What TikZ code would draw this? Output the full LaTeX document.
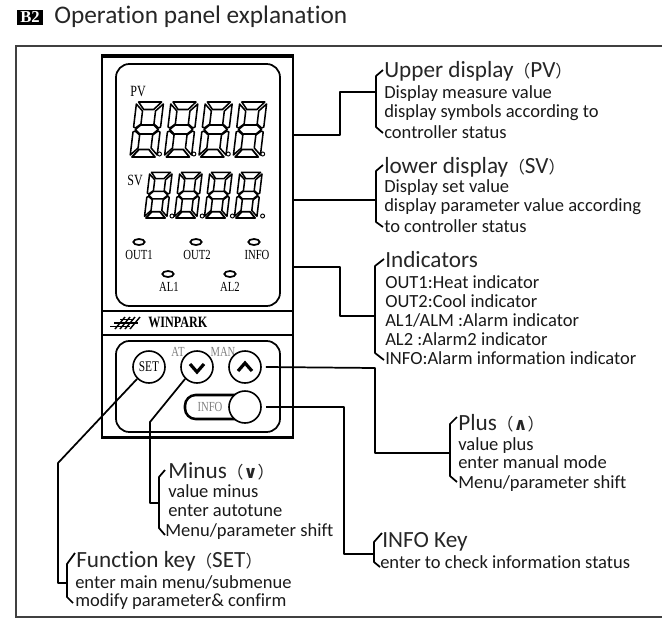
\documentclass[tikz,border=0pt]{standalone}
\usepackage{fontspec}
\setmainfont[Ligatures=NoCommon]{Carlito}
\newfontfamily\cjkf{Noto Sans CJK SC}
\newfontfamily\dejab{DejaVu Sans}
\newfontfamily\serf{Liberation Serif}
\usetikzlibrary{shapes.geometric}
\newcommand{\tall}[1]{\scalebox{1}[1.3]{#1}}
\newcommand{\lp}{{\cjkf\fontsize{12.5}{12}\selectfont （}}
\newcommand{\rp}{{\cjkf\fontsize{12.5}{12}\selectfont ）}}
\newcommand{\segdigit}[3]{%
\begin{scope}[shift={(#1,#2)},xslant=.12,scale=#3,line width=1.15pt,line join=round]
\draw (3,-55)--(26,-55)--(19,-47.5)--(9,-47.5)--cycle;
\draw (1,-53)--(8,-46)--(8,-33)--(3,-29)--(1,-30)--cycle;
\draw (28,-53)--(21,-46)--(21,-33)--(26,-29)--(28,-30)--cycle;
\draw (3,-27.5)--(8,-32)--(21,-32)--(26,-27.5)--(21,-23)--(8,-23)--cycle;
\draw (1,-25)--(3,-26)--(8,-22)--(8,-9)--(1,-2)--cycle;
\draw (28,-25)--(26,-26)--(21,-22)--(21,-9)--(28,-2)--cycle;
\draw[line width=1.35pt] (3,0)--(26,0)--(19,-7.5)--(9,-7.5)--cycle;
\end{scope}}
\tikzset{
 x=.75pt,y=-.75pt,
 conn/.style={line width=1.3pt,line join=round},
 thin frame/.style={line width=.9pt,draw=black!75},
 body/.style={line width=1.6pt},
 head/.style={anchor=west,inner sep=0pt,yshift=-2.2pt,text height=.68em,text depth=.2em,font=\fontsize{17.4}{19}\selectfont,text=black!85},
 txt/.style={anchor=west,inner sep=0pt,yshift=-2.2pt,text height=.68em,text depth=.2em,font=\fontsize{13.9}{15}\selectfont,text=black!90},
 dev/.style={inner sep=0pt,font=\serf\fontsize{8}{9}\selectfont},
 devg/.style={inner sep=0pt,font=\serf\fontsize{8}{9}\selectfont,text=black!50},
 key/.style={circle,draw,line width=1.2pt,fill=white,minimum size=24pt,inner sep=0pt},
 led/.style={ellipse,draw,line width=1.3pt,minimum width=8.5pt,minimum height=4.5pt,inner sep=0pt},
 dotm/.style={circle,draw,line width=.7pt,minimum size=3pt,inner sep=0pt},
}
\begin{document}
\begin{tikzpicture}
\useasboundingbox (0,0) rectangle (662,618);
% title
\node[fill=black,text=white,inner sep=0pt,minimum width=19.5pt,minimum height=11.5pt,font=\serf\bfseries\fontsize{12.5}{12}\selectfont] (badge) at (30,17.5) {B2};
\node[anchor=west,inner sep=0pt,font=\fontsize{19}{21}\selectfont,text=black!85] (title) at (54,17) {Operation panel explanation};
% frame
\draw[thin frame] (662,46)--(16,46)--(16,617)--(662,617);
% device
\draw[body] (102,56) rectangle (293,438);
\draw[line width=3pt] (101,56)--(294,56);
\draw[line width=2pt] (101,437)--(294,437);
\draw[line width=1.3pt,rounded corners=10pt] (116,306)--(116,64)--(280,64)--(280,306)--cycle;
\draw[line width=2pt] (102,311)--(293,311);
\draw[line width=2pt] (102,335)--(293,335);
\draw[line width=1.3pt,rounded corners=10pt] (116,341)--(116,432)--(280,432)--(280,341)--cycle;
% digits
\node[dev,font=\serf\fontsize{9}{9}\selectfont] (pv) at (138,92) {\tall{PV}};
\node[dev,font=\serf\fontsize{9}{9}\selectfont] (sv) at (135,180) {\tall{SV}};
\foreach \i in {0,1,2,3}{
 \segdigit{129+34.4*\i}{157}{1}
 \node[dotm] at (159.5+34.4*\i,154) {};
 \segdigit{143.5+30*\i}{218}{.83}
 \node[dotm] at (172+30.2*\i,216) {};
}
% indicators
\node[led] (l1) at (139,242) {};
\node[led] (l2) at (196,242) {};
\node[led] (l3) at (254,242) {};
\node[led] (l4) at (168,274) {};
\node[led] (l5) at (230,274) {};
\node[dev] (t1) at (139,255) {\tall{OUT1}};
\node[dev] (t2) at (197,255) {\tall{OUT2}};
\node[dev] (t3) at (257,255) {\tall{INFO}};
\node[dev] (t4) at (169,287) {\tall{AL1}};
\node[dev] (t5) at (230,287) {\tall{AL2}};
% winpark logo
\foreach \d in {0,5,10,15}
 \draw[line width=1.1pt] (115+\d,329)--(125+\d,317);
\draw[line width=1.2pt] (110,326.5)--(130,326.5);
\draw[line width=1.2pt] (114,323)--(138,323);
\draw[line width=1.2pt] (120,319.5)--(134,319.5);
\node[anchor=west,inner sep=0pt,font=\serf\bfseries\fontsize{9.1}{9}\selectfont] (wp) at (148,322) {\tall{WINPARK}};
% buttons
\node[devg] (at) at (178,352) {\tall{AT}};
\node[devg] (man) at (223,352) {\tall{MAN}};
\node[key] (set) at (149,367) {};
\node[dev,font=\serf\fontsize{8.5}{9}\selectfont] at (set) {\tall{SET}};
\node[key] (minus) at (197,367) {};
\draw[line width=2.4pt] (190,364)--(197,372)--(204,364);
\node[key] (plus) at (245,367) {};
\draw[line width=2.4pt] (238,371)--(245,363)--(252,371);
\draw[line width=1.9pt,rounded corners=8pt] (240,395)--(185,395)--(185,419)--(240,419);
\node[devg] (infot) at (210,407) {\tall{INFO}};
\node[key] (info) at (245,407) {};
% connector anchors
\coordinate (a1) at (294,135);
\coordinate (a2) at (294,200);
\coordinate (a3) at (294,267);
% connectors
\draw[conn] (a1)--(340,135)--(340,92)--(376,92);
\draw[conn] (a2)--(376,200);
\draw[conn] (a3)--(340,267)--(340,316)--(375,316);
\draw[conn] ([xshift=3pt]plus.east)--(375,368)--(375,453)--(450,453);
\draw[conn] ([xshift=3pt]info.east)--(344,407)--(344,554)--(374,554);
\draw[conn] (minus.225)--(150,422)--(150,503)--(159,503);
\draw[conn] (set.225)--(58,463)--(58,583)--(67,583);
% brackets
\draw[conn] (383,70)--(376,76)--(376,127)--(383,133);
\draw[conn] (383,165)--(376,171)--(376,222)--(383,227);
\draw[conn] (384,259)--(375,266)--(375,353)--(384,360);
\draw[conn] (457,417)--(450,424)--(450,476)--(457,482);
\draw[conn] (165,470)--(159,477)--(159,528)--(165,535);
\draw[conn] (382,533)--(374,542)--(374,562)--(380,567);
\draw[conn] (75,553)--(67,564)--(67,597)--(73,603);
% text
\node[head] (h1) at (384,71) {Upper display\lp PV\rp};
\node[txt] at (384,92) {Display measure value};
\node[txt] at (384,111) {display symbols according to};
\node[txt] at (384,132) {controller status};
\node[head] (h2) at (384,167) {lower display\lp SV\rp};
\node[txt] at (384,186) {Display set value};
\node[txt] at (384,205) {display parameter value according};
\node[txt] at (384,226) {to controller status};
\node[head] (h3) at (385,261) {Indicators};
\node[txt] at (385,282) {OUT1:Heat indicator};
\node[txt] at (385,301) {OUT2:Cool indicator};
\node[txt] at (385,320) {AL1/ALM :Alarm indicator};
\node[txt] at (385,339) {AL2 :Alarm2 indicator};
\node[txt] at (385,358) {INFO:Alarm information indicator};
\node[head] (h4) at (458,424) {Plus\lp{\dejab\bfseries\fontsize{13}{13}\selectfont ∧}\rp};
\node[txt] at (458,444) {value plus};
\node[txt] at (458,462) {enter manual mode};
\node[txt] at (458,482) {Menu/parameter shift};
\node[head] (h5) at (168,472) {Minus\lp{\dejab\bfseries\fontsize{13}{13}\selectfont ∨}\rp};
\node[txt] at (168,491) {value minus};
\node[txt] at (168,510) {enter autotune};
\node[txt] at (165,530) {Menu/parameter shift};
\node[head] (h6) at (382,541) {INFO Key};
\node[txt] at (380,562) {enter to check information status};
\node[head] (h7) at (76,561) {Function key\lp SET\rp};
\node[txt] at (75,582) {enter main menu/submenue};
\node[txt] at (75,600) {modify parameter\& confirm};
\end{tikzpicture}
\end{document}
